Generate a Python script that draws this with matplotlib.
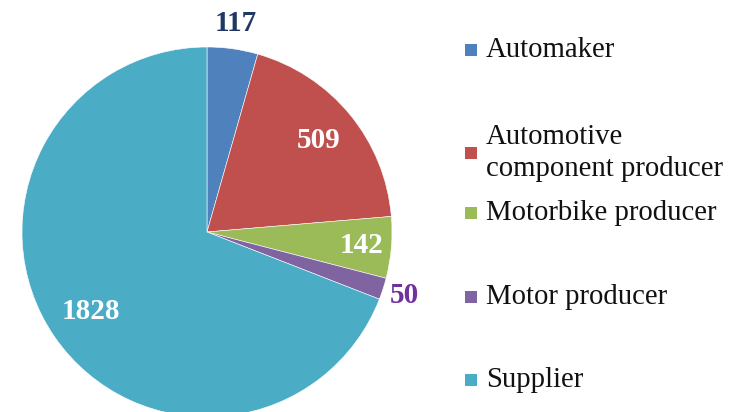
import numpy as np
import matplotlib.pyplot as plt
from matplotlib.patches import Rectangle

# data
categories = ['Automaker', 'Automotive\ncomponent producer', 'Motorbike producer',
              'Motor producer', 'Supplier']
values = [117, 509, 142, 50, 1828]
colors = ['#4F81BD', '#C0504D', '#9BBB59', '#8064A2', '#4BACC6']
label_colors = ['#1F3864', 'white', 'white', '#7030A0', 'white']
label_radius = [1.14, 0.78, 0.84, 1.12, 0.76]

plt.rcParams['font.family'] = ['Liberation Serif', 'DejaVu Serif']

fig = plt.figure(figsize=(7.47, 4.12), dpi=100)
W, H = 747, 412
# pie centre ~ (207, 232) px, radius ~185 px
ax = fig.add_axes([22 / W, (H - 417) / H, 370 / W, 370 / H])
wedges, _ = ax.pie(values, colors=colors, startangle=90, counterclock=False,
                   radius=1, wedgeprops=dict(edgecolor='white', linewidth=0.4))
ax.set_xlim(-1, 1)
ax.set_ylim(-1, 1)
ax.set_aspect('equal')
ax.axis('off')

# value labels
for w, v, c, r in zip(wedges, values, label_colors, label_radius):
    mid = np.deg2rad((w.theta1 + w.theta2) / 2)
    ax.text(r * np.cos(mid), r * np.sin(mid), str(v), ha='center', va='center',
            fontsize=21, fontweight='bold', color=c, clip_on=False)

# legend drawn by hand (irregular spacing in the original)
legend_y = [50, 153, 213, 297, 380]
for name, col, y in zip(categories, colors, legend_y):
    fig.patches.append(Rectangle((465 / W, 1 - (y + 6) / H), 12 / W, 12 / H,
                                 transform=fig.transFigure, facecolor=col,
                                 edgecolor='none'))
    fig.text(486 / W, 1 - y / H, name, ha='left', va='center', fontsize=20.7,
             color='#111111', linespacing=1.28)

fig.savefig('out.png', dpi=100)
